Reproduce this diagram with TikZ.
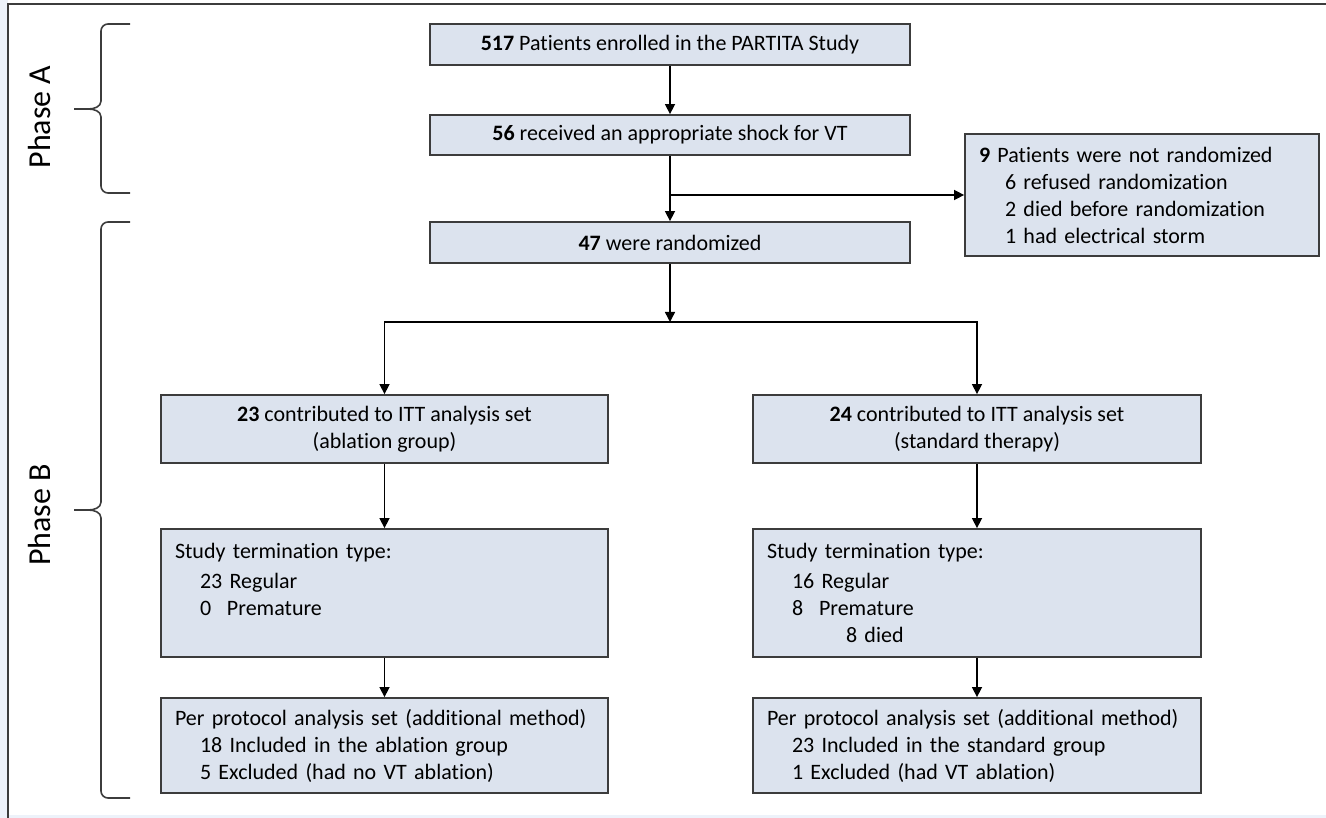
\documentclass[tikz,border=0pt]{standalone}
\usepackage{fontspec}
\setmainfont[Ligatures=NoCommon]{Carlito}
\usetikzlibrary{arrows.meta}
\definecolor{boxfill}{HTML}{DCE3EE}
\definecolor{boxline}{HTML}{3C3C3C}
\definecolor{pageside}{HTML}{EDF2FA}

\begin{document}
\begin{tikzpicture}[x=1pt,y=-1pt,
    box/.style={draw=boxline, fill=boxfill, line width=1.8pt, inner sep=0pt,
      font=\fontsize{22}{27}\selectfont},
    lbox/.style={box, align=left},
    arr/.style={-{Triangle[length=10pt,width=10pt]}, line width=1.5pt},
    brace/.style={draw=boxline, line width=1.6pt},
    phase/.style={rotate=90, font=\fontsize{32}{36}\selectfont}]
  \useasboundingbox (0,0) rectangle (1326,818);
  \fill[pageside] (0,0) rectangle (8,818);
  \fill[pageside] (8,815) rectangle (1326,818);
  \draw[boxline, line width=2pt] (8,818) -- (8,4) -- (1326,4);

  % phase labels and braces
  \node[phase] (phaseA) at (40,117) {Phase A};
  \node[phase] (phaseB) at (40,515) {Phase B};
  \draw[brace] (130,24) -- (108,24) to[out=180,in=90] (101,31) -- (101,101) to[out=-90,in=0] (88,109) -- (74,109);
  \draw[brace] (74,109) -- (88,109) to[out=0,in=90] (101,117) -- (101,186) to[out=-90,in=180] (108,193) -- (130,193);
  \draw[brace] (130,222) -- (108,222) to[out=180,in=90] (101,229) -- (101,502) to[out=-90,in=0] (88,510) -- (74,510);
  \draw[brace] (74,510) -- (88,510) to[out=0,in=90] (101,518) -- (101,791) to[out=-90,in=180] (108,798) -- (130,798);

  % top column
  \node[box, minimum width=480pt, minimum height=41pt] (enrolled) at (670,44.5)
    {\textbf{517} Patients enrolled in the PARTITA Study};
  \node[box, minimum width=480pt, minimum height=40pt] (shock) at (670,135)
    {\textbf{56} received an appropriate shock for VT};
  \node[box, minimum width=480pt, minimum height=41pt] (randomized) at (670,242.5)
    {\textbf{47} were randomized};
  \node[lbox, minimum width=354pt, minimum height=122pt, text width=326pt] (notrand) at (1142,195)
    {\textbf{9} Patients were not randomized\\
     \hspace*{26pt}6 refused randomization\\
     \hspace*{26pt}2 died before randomization\\
     \hspace*{26pt}1 had electrical storm};

  % ITT sets
  \node[box, align=center, minimum width=447pt, minimum height=68pt] (ittabl) at (384.5,429)
    {\textbf{23} contributed to ITT analysis set\\(ablation group)};
  \node[box, align=center, minimum width=448pt, minimum height=68pt] (ittstd) at (977,429)
    {\textbf{24} contributed to ITT analysis set\\(standard therapy)};

  % study termination
  \node[lbox, minimum width=447pt, minimum height=128pt, text width=419pt] (termabl) at (384.5,593)
    {Study termination type:\\[3pt]
     \hspace*{25pt}23 Regular\\
     \hspace*{25pt}\makebox[27pt][l]{0}Premature\\
     \mbox{}};
  \node[lbox, minimum width=448pt, minimum height=128pt, text width=420pt] (termstd) at (977,593)
    {Study termination type:\\[3pt]
     \hspace*{25pt}16 Regular\\
     \hspace*{25pt}\makebox[27pt][l]{8}Premature\\
     \hspace*{79pt}8 died};

  % per protocol
  \node[lbox, minimum width=447pt, minimum height=95pt, text width=419pt] (ppabl) at (384.5,745.5)
    {Per protocol analysis set (additional method)\\
     \hspace*{25pt}18 Included in the ablation group\\
     \hspace*{25pt}5 Excluded (had no VT ablation)};
  \node[lbox, minimum width=448pt, minimum height=95pt, text width=420pt] (ppstd) at (977,745.5)
    {Per protocol analysis set (additional method)\\
     \hspace*{25pt}23 Included in the standard group\\
     \hspace*{25pt}1 Excluded (had VT ablation)};

  % connectors
  \coordinate (split) at (670,322);
  \draw[arr] (enrolled) -- (shock);
  \draw[arr] (shock) -- (randomized);
  \draw[arr] (shock.south |- notrand.west) -- (notrand.west);
  \draw[arr] (randomized) -- (split);
  \draw[arr] (split) -| (ittabl);
  \draw[arr] (split) -| (ittstd);
  \draw[arr] (ittabl) -- (termabl);
  \draw[arr] (ittstd) -- (termstd);
  \draw[arr] (termabl) -- (ppabl);
  \draw[arr] (termstd) -- (ppstd);
\end{tikzpicture}
\end{document}
